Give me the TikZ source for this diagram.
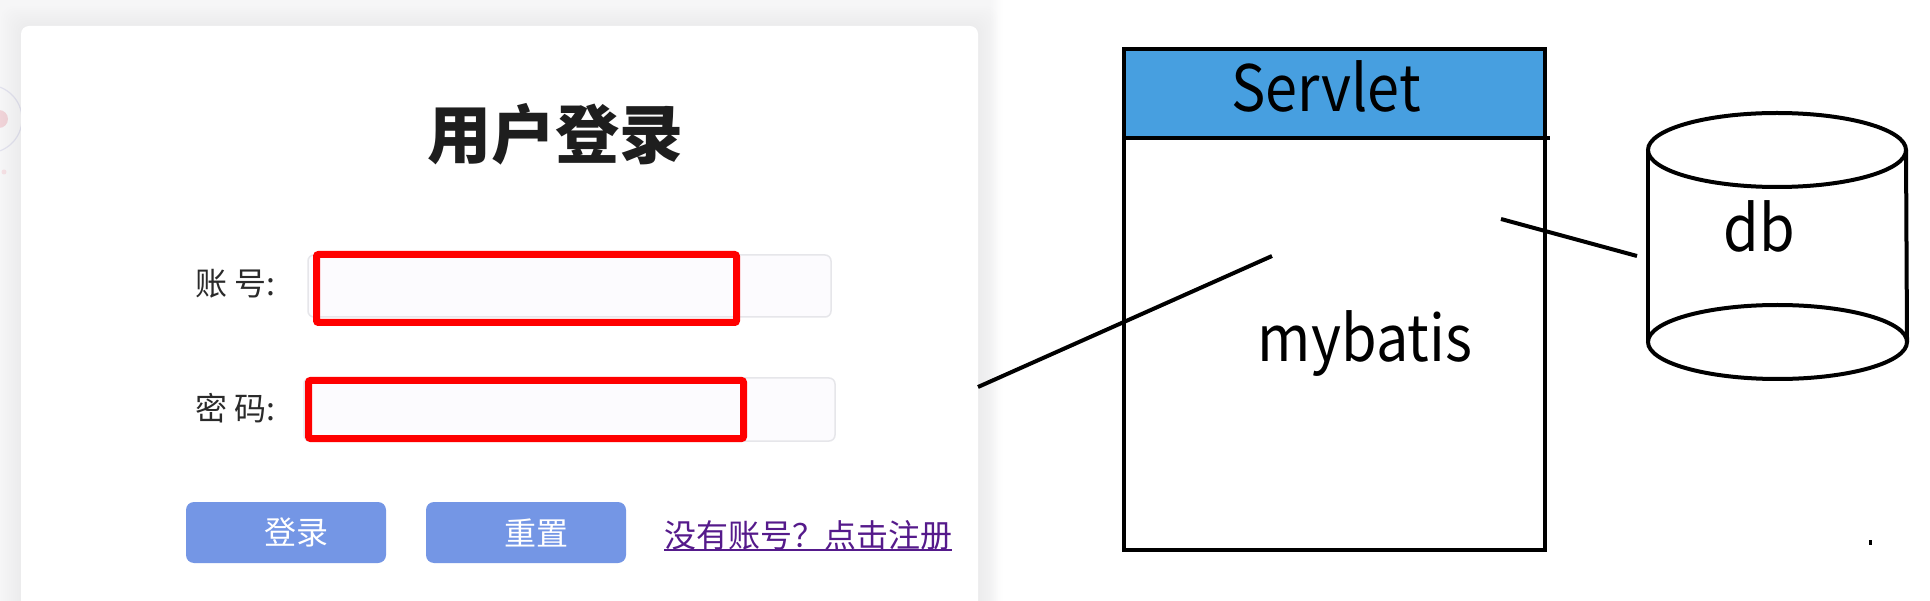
\documentclass[tikz,border=0pt]{standalone}
\usepackage{fontspec}
\setmainfont{Noto Sans CJK SC}
\definecolor{bgc}{HTML}{F6F6F7}
\definecolor{circc}{HTML}{E2E2EE}
\definecolor{pinkc}{HTML}{F0D3D8}
\definecolor{titlec}{HTML}{1E1E1E}
\definecolor{labelc}{HTML}{2A2A2A}
\definecolor{infill}{HTML}{FCFBFE}
\definecolor{inborder}{HTML}{E6E6EA}
\definecolor{redc}{HTML}{FF0000}
\definecolor{btnc}{HTML}{7496E5}
\definecolor{linkc}{HTML}{551A8B}
\definecolor{hdrc}{HTML}{479FE0}
\begin{document}
\begin{tikzpicture}[x=1pt,y=-1pt,
  every node/.style={inner sep=0pt, outer sep=0pt},
  card/.style={fill=white, rounded corners=8pt, anchor=north west},
  lbl/.style={font=\fontsize{32}{36}\selectfont, text=labelc, anchor=west},
  inbox/.style={draw=inborder, fill=infill, line width=1.5pt, rounded corners=6pt},
  redbox/.style={draw=redc, line width=7pt, rounded corners=2pt},
  btn/.style={fill=btnc, rounded corners=8pt, text=white, font=\fontsize{32}{36}\selectfont, minimum width=200pt, minimum height=61pt},
  linktext/.style={text=linkc, font=\fontsize{32}{36}\selectfont},
  diag/.style={draw=black, line width=4pt},
  bigtext/.style={font=\fontsize{64}{70}\selectfont, text=black, anchor=base, xscale=0.9},
  conn/.style={draw=black, line width=4pt}]
\useasboundingbox (0,0) rectangle (1930,601);
\fill[white] (0,0) rectangle (1930,601);
% screenshot background and card shadow
\fill[bgc] (0,0) rectangle (990,601);
\shade[left color=bgc, right color=white] (990,0) rectangle (1003,601);
\draw[circc, line width=1.2pt] (-12,119) circle[radius=34pt];
\fill[pinkc] (-1,119) circle[radius=9pt];
\fill[pinkc!70!white] (4,172) circle[radius=2.5pt];
\foreach \d in {2,4,...,20} {
  \fill[black, opacity=0.004, rounded corners=12pt] ({21-\d},{26-\d}) rectangle ({978+\d},640);
}
\node[card, minimum width=957pt, minimum height=614pt] (card) at (21,26) {};
% title
\node[font=\bfseries\fontsize{64}{70}\selectfont, text=titlec] (title) at (555,134) {用户登录};
% inputs
\node[lbl] (lab1) at (195,284) {账 号:};
\node[inbox, minimum width=523pt, minimum height=62pt] (in1) at (569.5,286) {};
\node[redbox, minimum width=420pt, minimum height=68pt] (red1) at (526.5,288.5) {};
\node[lbl] (lab2) at (195,408) {密 码:};
\node[inbox, minimum width=531pt, minimum height=63pt] (in2) at (569.5,409.5) {};
\node[redbox, minimum width=435pt, minimum height=58pt] (red2) at (526,409.5) {};
% buttons
\node[btn] (login) at (286,532.5) {\hspace*{20pt}登录};
\node[btn] (reset) at (526,532.5) {\hspace*{20pt}重置};
\node[linktext] (reg) at (808,535) {没有账号？点击注册};
\draw[linkc, line width=2.5pt] (reg.south west) -- (reg.south east);
% Servlet box
\node[diag, fill=hdrc, minimum width=421pt, minimum height=89pt] (hdr) at (1334.5,93.5) {};
\node[diag, fill=white, minimum width=421pt, minimum height=412pt] (body) at (1334.5,344) {};
\draw[diag] (hdr.south west) -- ([xshift=5pt]hdr.south east);
\node[bigtext] (servlet) at (1326,112) {Servlet};
\node[bigtext] (mybatis) at (1365,362) {mybatis};
% database cylinder
\coordinate (dbtop) at (1777,150);
\coordinate (dbbot) at (1777.5,342);
\draw[line width=4pt] (1648,150) -- (1648,342);
\draw[line width=4pt] (1906,150) -- (1907,342);
\draw[line width=4pt, fill=white] (dbtop) ellipse[x radius=129pt, y radius=37pt];
\draw[line width=4pt] (dbbot) ellipse[x radius=129.5pt, y radius=37pt];
\node[bigtext] (db) at (1759,252) {db};
% connectors
\coordinate (c1a) at (978,387);
\coordinate (c1b) at (1272,256);
\coordinate (c2a) at (1501,219);
\coordinate (c2b) at (1637,256);
\draw[conn] (c1a) -- (c1b);
\draw[conn] (c2a) -- (c2b);
% stray dot
\fill[black] (1868.5,539.5) rectangle (1871.5,544.5);
\end{tikzpicture}
\end{document}
